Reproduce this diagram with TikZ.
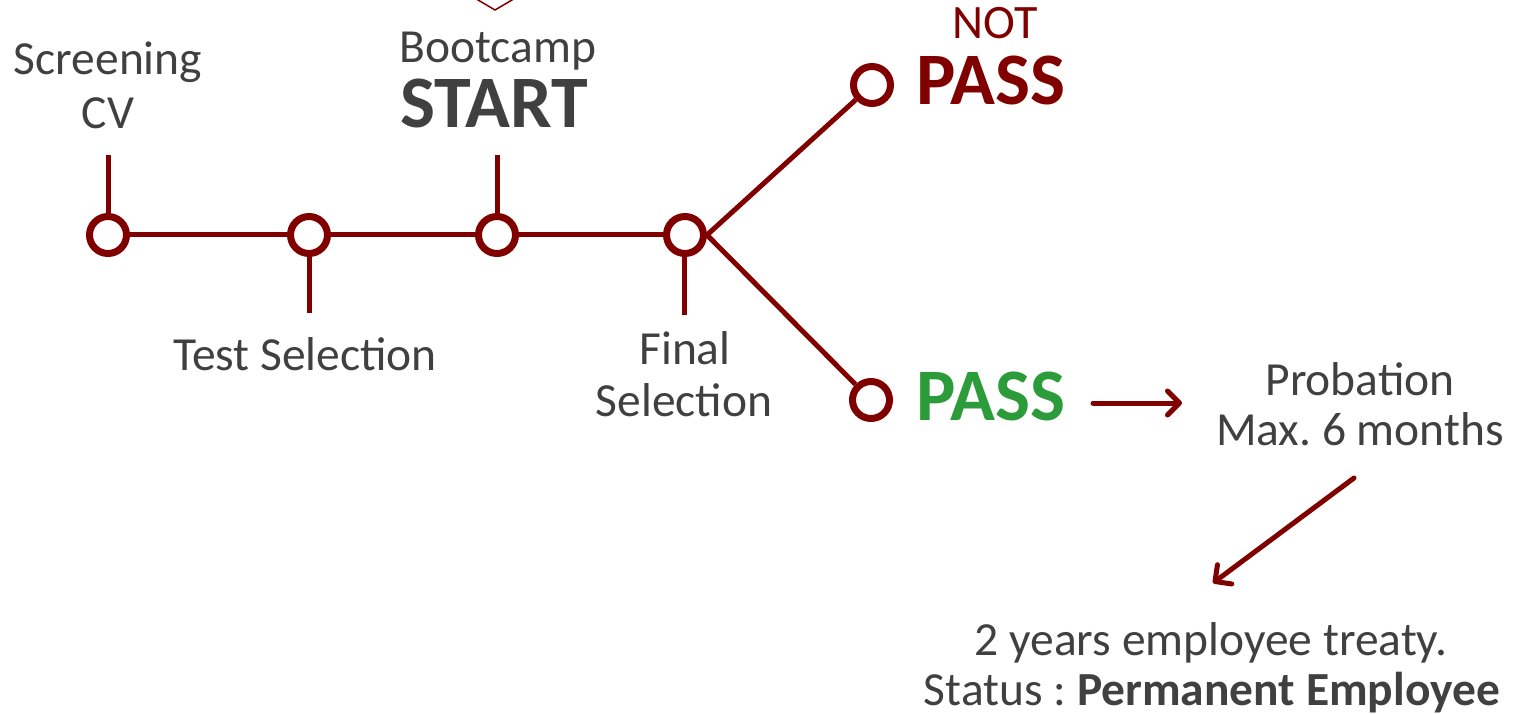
\documentclass[tikz,border=0pt]{standalone}
\usepackage{fontspec}
\setmainfont{Carlito}
\usetikzlibrary{arrows.meta}
\definecolor{deepred}{RGB}{128,0,0}
\definecolor{txtgray}{RGB}{64,64,64}
\definecolor{passgreen}{RGB}{44,155,58}
\frenchspacing
\begin{document}
\begin{tikzpicture}[x=1pt,y=-1pt,
  stop/.style={circle,draw=deepred,line width=7pt,fill=white,minimum size=37pt,inner sep=0pt},
  conn/.style={draw=deepred,line width=5pt},
  lbl/.style={text=txtgray,font=\fontsize{47.5}{56}\selectfont,anchor=base,inner sep=0pt},
  big/.style={font=\fontsize{74}{80}\selectfont\bfseries,anchor=base,inner sep=0pt},
  arr/.style={draw=deepred,line width=5pt,line cap=round,-{Straight Barb[length=12pt,width=24pt,line width=5pt,round]}}]
\useasboundingbox (0,0) rectangle (1527,714);
% partial diamond at top
\draw[deepred,line width=1.5pt] (461,-10) -- (495,10) -- (529,-10);
% coordinates for free ends
\coordinate (t1) at (108,155);
\coordinate (t2) at (309,313);
\coordinate (t3) at (497,155);
\coordinate (t4) at (684,315);
% connectors (drawn first)
\path[conn] (108,235) -- (309,235) -- (497,235) -- (685,235);
\path[conn] (108,235) -- (t1);
\path[conn] (309,235) -- (t2);
\path[conn] (497,235) -- (t3);
\path[conn] (684,235) -- (t4);
% stops
\node[stop] (s1) at (108,235) {};
\node[stop] (s2) at (309,235) {};
\node[stop] (s3) at (497,235) {};
\node[stop] (s4) at (685,235) {};
\node[stop] (np) at (872,85) {};
\node[stop] (ps) at (871,400) {};
\path[conn] (s4.east) -- (np);
\path[conn] (s4.east) -- (ps);
% labels
\node[lbl] (scr1) at (108,75) {Screening};
\node[lbl] (scr2) at (108,129) {CV};
\node[lbl] (boot) at (498,63) {Bootcamp};
\node[big,text=txtgray] (start) at (494,128) {START};
\node[lbl] (test) at (305,370) {Test Selection};
\node[lbl] (fin1) at (685,364) {Final};
\node[lbl] (fin2) at (684,416) {Selection};
\node[lbl,text=deepred,font=\fontsize{48}{50}\selectfont] (not) at (995,39) {NOT};
\node[big,text=deepred] (npass) at (991,105) {PASS};
\node[big,text=passgreen] (gpass) at (991,420) {PASS};
\node[lbl] (prob1) at (1360,395) {Probation};
\node[lbl] (prob2) at (1360,445) {Max. 6 months};
\node[lbl] (emp1) at (1211,655) {2 years employee treaty.};
\node[lbl] (emp2) at (1212,705) {Status : \textbf{Permanent Employee}};
% arrows
\coordinate (a1s) at (1093,403);
\coordinate (a1e) at (1182,403);
\coordinate (a2s) at (1354,478);
\coordinate (a2e) at (1213,583);
\draw[arr] (a1s) -- (a1e);
\draw[arr] (a2s) -- (a2e);
\end{tikzpicture}
\end{document}
